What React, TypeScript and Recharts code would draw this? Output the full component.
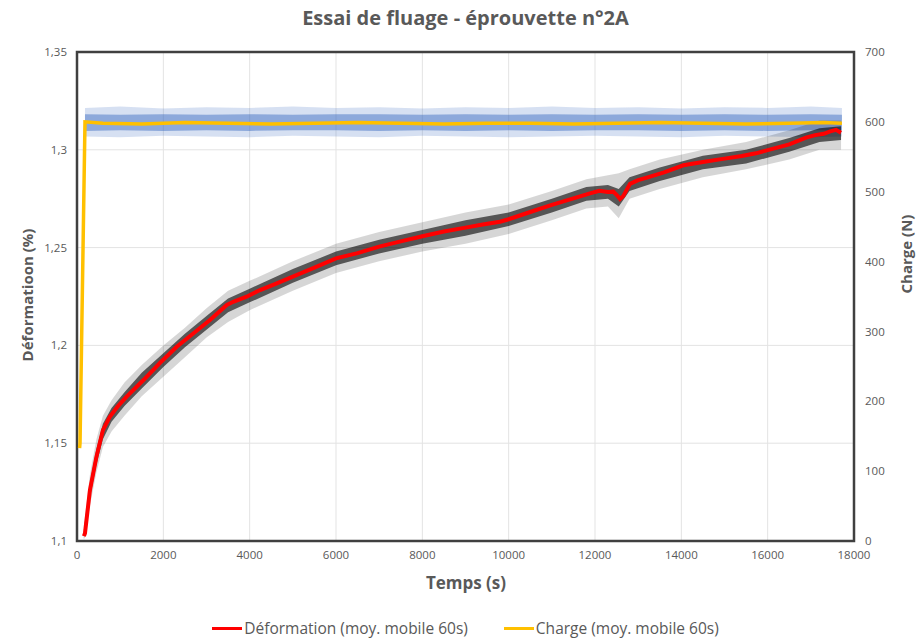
import React from 'react';
import {
  ComposedChart,
  Line,
  Area,
  CartesianGrid,
  XAxis,
  YAxis,
  Legend,
  Label,
  ReferenceArea,
} from 'recharts';

// time axis (s)
const xTicks = [0, 2000, 4000, 6000, 8000, 10000, 12000, 14000, 16000, 18000];
const defTicks = [1.1, 1.15, 1.2, 1.25, 1.3, 1.35];
const chargeTicks = [0, 100, 200, 300, 400, 500, 600, 700];

// déformation, moyenne mobile 60s (%)
const defTime = [160, 185, 300, 450, 600, 760, 950, 1150, 1540, 1920, 2310, 2700, 3080, 3470, 3620, 3930, 4240, 4600, 5000, 5500, 6000, 6500, 7000, 7500, 8000, 8500, 9000, 9400, 9800, 10000, 10500, 11000, 11500, 11884, 12100, 12300, 12424, 12520, 12580, 12650, 12811, 13000, 13200, 13600, 14046, 14500, 15000, 15400, 15730, 16000, 16500, 16888, 17100, 17300, 17450, 17583, 17699];
const defAvg = [1.1025, 1.104, 1.126, 1.143, 1.1567, 1.1635, 1.169, 1.1738, 1.1823, 1.191, 1.1993, 1.2062, 1.213, 1.2207, 1.2223, 1.2249, 1.2283, 1.2315, 1.2352, 1.2398, 1.2445, 1.2472, 1.2505, 1.2532, 1.2558, 1.2582, 1.2602, 1.2618, 1.2632, 1.2645, 1.2682, 1.2718, 1.2752, 1.2777, 1.279, 1.2784, 1.2786, 1.2765, 1.2748, 1.2762, 1.2826, 1.2845, 1.2858, 1.2885, 1.2921, 1.2938, 1.2955, 1.2968, 1.2982, 1.2998, 1.3028, 1.3062, 1.3075, 1.3082, 1.3094, 1.3102, 1.3087];

// raw déformation cloud (envelope)
const defRawTime = [160, 300, 450, 600, 800, 1100, 1500, 2000, 2500, 3000, 3500, 4000, 5000, 6000, 7000, 8000, 9000, 10000, 11000, 11800, 12300, 12550, 12800, 13500, 14500, 15500, 16500, 17200, 17700];
const defRawOuterLow = [1.1, 1.118, 1.135, 1.148, 1.156, 1.164, 1.174, 1.184, 1.194, 1.204, 1.212, 1.218, 1.228, 1.237, 1.243, 1.248, 1.252, 1.257, 1.264, 1.27, 1.271, 1.265, 1.275, 1.28, 1.286, 1.29, 1.295, 1.3, 1.3];
const defRawOuterHigh = [1.108, 1.134, 1.152, 1.164, 1.172, 1.181, 1.19, 1.2, 1.209, 1.219, 1.228, 1.233, 1.243, 1.252, 1.258, 1.263, 1.268, 1.272, 1.279, 1.285, 1.287, 1.288, 1.29, 1.295, 1.3, 1.304, 1.31, 1.315, 1.315];
const defRawInnerLow = [1.101, 1.122, 1.139, 1.152, 1.161, 1.169, 1.178, 1.189, 1.199, 1.208, 1.217, 1.222, 1.232, 1.241, 1.247, 1.252, 1.256, 1.261, 1.268, 1.274, 1.275, 1.271, 1.279, 1.284, 1.29, 1.293, 1.299, 1.304, 1.305];
const defRawInnerHigh = [1.106, 1.13, 1.147, 1.16, 1.168, 1.176, 1.186, 1.196, 1.206, 1.215, 1.224, 1.229, 1.239, 1.248, 1.254, 1.259, 1.264, 1.268, 1.275, 1.281, 1.282, 1.28, 1.286, 1.291, 1.297, 1.3, 1.306, 1.311, 1.312];

// charge, moyenne mobile 60s (N)
const chargeTime = [60, 70, 185, 600, 1500, 2500, 3500, 4500, 5500, 6500, 7500, 8500, 9500, 10500, 11500, 12500, 13500, 14500, 15500, 16500, 17300, 17720];
const chargeAvg = [133, 140, 600, 598, 597, 599, 598, 597, 598, 599, 598, 597, 598, 598, 597, 598, 599, 598, 597, 598, 599, 598];

// raw charge cloud
const chargeRawTime = [185, 1000, 2000, 3000, 4000, 5000, 6000, 7000, 8000, 9000, 10000, 11000, 12000, 13000, 14000, 15000, 16000, 17000, 17720];
const chargeRawOuterLow = [579, 578, 580, 579, 578, 580, 579, 578, 580, 579, 578, 579, 580, 579, 578, 580, 579, 578, 579];
const chargeRawOuterHigh = [620, 622, 619, 621, 620, 622, 620, 621, 619, 621, 620, 622, 620, 621, 619, 621, 620, 622, 620];
const chargeRawInnerLow = [587, 588, 587, 588, 587, 588, 588, 587, 588, 587, 588, 587, 588, 588, 587, 588, 587, 588, 588];
const chargeRawInnerHigh = [611, 610, 611, 610, 611, 610, 611, 611, 610, 611, 610, 611, 610, 611, 610, 611, 610, 611, 610];

const defLine = defTime.map((t, i) => ({ t, v: defAvg[i] }));
const defOuter = defRawTime.map((t, i) => ({ t, r: [defRawOuterLow[i], defRawOuterHigh[i]] }));
const defInner = defRawTime.map((t, i) => ({ t, r: [defRawInnerLow[i], defRawInnerHigh[i]] }));
const chargeLine = chargeTime.map((t, i) => ({ t, v: chargeAvg[i] }));
const chargeOuter = chargeRawTime.map((t, i) => ({ t, r: [chargeRawOuterLow[i], chargeRawOuterHigh[i]] }));
const chargeInner = chargeRawTime.map((t, i) => ({ t, r: [chargeRawInnerLow[i], chargeRawInnerHigh[i]] }));

const FONT = '"Open Sans", "DejaVu Sans", sans-serif';
const GREY = '#595959';

const tickStyle = { fontSize: 11.5, fill: GREY, fontFamily: FONT };

const LeftTitle = () => (
  <text x={27} y={295} transform="rotate(-90, 27, 295)" textAnchor="middle" dominantBaseline="central"
    fontFamily={FONT} fontSize={15} fontWeight={700} fill={GREY}>
    Déformatioon (%)
  </text>
);

const RightTitle = () => (
  <text x={906} y={254} transform="rotate(-90, 906, 254)" textAnchor="middle" dominantBaseline="central"
    fontFamily={FONT} fontSize={15} fontWeight={700} fill={GREY}>
    Charge (N)
  </text>
);

const BottomTitle = () => (
  <text x={466} y={582} textAnchor="middle" dominantBaseline="central"
    fontFamily={FONT} fontSize={17} fontWeight={700} fill={GREY}>
    Temps (s)
  </text>
);

const legendItems = [
  { label: 'Déformation (moy. mobile 60s)', color: '#ff0000' },
  { label: 'Charge (moy. mobile 60s)', color: '#ffc000' },
];

const ChartLegend = () => (
  <div style={{ display: 'flex', justifyContent: 'center', gap: 36, fontFamily: FONT, fontSize: 15.5, color: GREY }}>
    {legendItems.map((it) => (
      <div key={it.label} style={{ display: 'flex', alignItems: 'center' }}>
        <span style={{ display: 'inline-block', width: 30, height: 3, background: it.color, marginRight: 2 }} />
        <span>{it.label}</span>
      </div>
    ))}
  </div>
);

export default function App() {
  return (
    <div style={{ position: 'absolute', left: 0, top: 0, width: 916, height: 638, background: '#fff' }}>
      <div style={{ position: 'absolute', left: 77, top: 4, width: 777, textAlign: 'center', fontFamily: FONT, fontWeight: 700, fontSize: 20, color: GREY }}>
        Essai de fluage - éprouvette n°2A
      </div>
      <ComposedChart width={916} height={638} margin={{ top: 52, right: 0, bottom: 47, left: 0 }}>
        <CartesianGrid yAxisId="left" stroke="#e3e3e3" strokeWidth={1} />
        <XAxis dataKey="t" type="number" domain={[0, 18000]} ticks={xTicks} allowDataOverflow
          height={50} tickSize={0} tickMargin={10} axisLine={false} tick={tickStyle}>
          <Label content={BottomTitle} />
        </XAxis>
        <YAxis yAxisId="left" orientation="left" type="number" domain={[1.1, 1.35]} ticks={defTicks} allowDataOverflow
          width={77} tickSize={0} tickMargin={10} axisLine={false} tick={tickStyle}
          tickFormatter={(v: number) => String(v).replace('.', ',')}>
          <Label content={LeftTitle} />
        </YAxis>
        <YAxis yAxisId="right" orientation="right" type="number" domain={[0, 700]} ticks={chargeTicks} allowDataOverflow
          width={62} tickSize={0} tickMargin={11} axisLine={false} tick={tickStyle}>
          <Label content={RightTitle} />
        </YAxis>

        <Area yAxisId="right" data={chargeOuter} dataKey="r" type="linear" stroke="none" fill="#4472c4" fillOpacity={0.22} isAnimationActive={false} legendType="none" />
        <Area yAxisId="right" data={chargeInner} dataKey="r" type="linear" stroke="none" fill="#4472c4" fillOpacity={0.5} isAnimationActive={false} legendType="none" />
        <Area yAxisId="left" data={defOuter} dataKey="r" type="linear" stroke="none" fill="#000" fillOpacity={0.16} isAnimationActive={false} legendType="none" />
        <Area yAxisId="left" data={defInner} dataKey="r" type="linear" stroke="none" fill="#000" fillOpacity={0.6} isAnimationActive={false} legendType="none" />

        <Line yAxisId="right" data={chargeLine} dataKey="v" type="linear" stroke="#ffc000" strokeWidth={3.5} dot={false} isAnimationActive={false} />
        <Line yAxisId="left" data={defLine} dataKey="v" type="linear" stroke="#ff0000" strokeWidth={4} dot={false} isAnimationActive={false} />

        <ReferenceArea yAxisId="left" x1={0} x2={18000} y1={1.1} y2={1.35} fill="none" stroke="#404040" strokeWidth={2.5} ifOverflow="visible" />

        <Legend layout="horizontal" verticalAlign="middle" content={ChartLegend}
          wrapperStyle={{ top: 617, left: 77, width: 777 }} />
      </ComposedChart>
    </div>
  );
}
